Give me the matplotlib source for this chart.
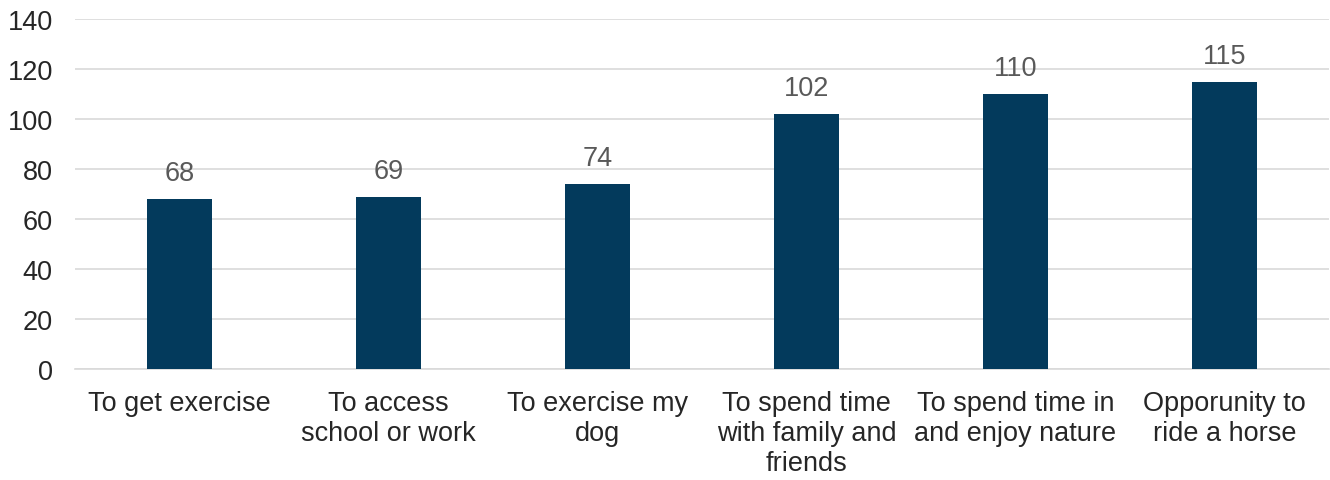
import matplotlib.pyplot as plt

categories = ['To get exercise', 'To access\nschool or work', 'To exercise my\ndog',
              'To spend time\nwith family and\nfriends', 'To spend time in\nand enjoy nature',
              'Opporunity to\nride a horse']
values = [68, 69, 74, 102, 110, 115]
yticks = [0, 20, 40, 60, 80, 100, 120, 140]

plt.rcParams['font.family'] = ['Liberation Sans', 'DejaVu Sans']

fig = plt.figure(figsize=(13.3, 4.81), dpi=100)
ax = fig.add_axes([75 / 1330, 111 / 481, 1254 / 1330, 350 / 481])

x = range(len(values))
bars = ax.bar(x, values, width=0.31, color='#033a5c', zorder=3)
for b, v in zip(bars, values):
    ax.text(b.get_x() + b.get_width() / 2, v + 5, str(v), ha='center', va='bottom',
            fontsize=19.5, color='#595959')

ax.set_xlim(-0.5, len(values) - 0.5)
ax.set_ylim(0, 140)
ax.set_yticks(yticks)
ax.set_xticks(list(x))
ax.set_xticklabels(categories, fontsize=19.5, color='#262626', linespacing=1.2)
ax.tick_params(axis='y', labelsize=19.5, labelcolor='#262626', length=0, pad=16)
ax.tick_params(axis='x', length=0, pad=15)
ax.grid(axis='y', color='#d9d9d9', linewidth=1.2, zorder=0)
for s in ['top', 'right', 'left']:
    ax.spines[s].set_visible(False)
ax.spines['bottom'].set_color('#d9d9d9')
ax.spines['bottom'].set_linewidth(1.2)

fig.savefig('out.png', dpi=100)
